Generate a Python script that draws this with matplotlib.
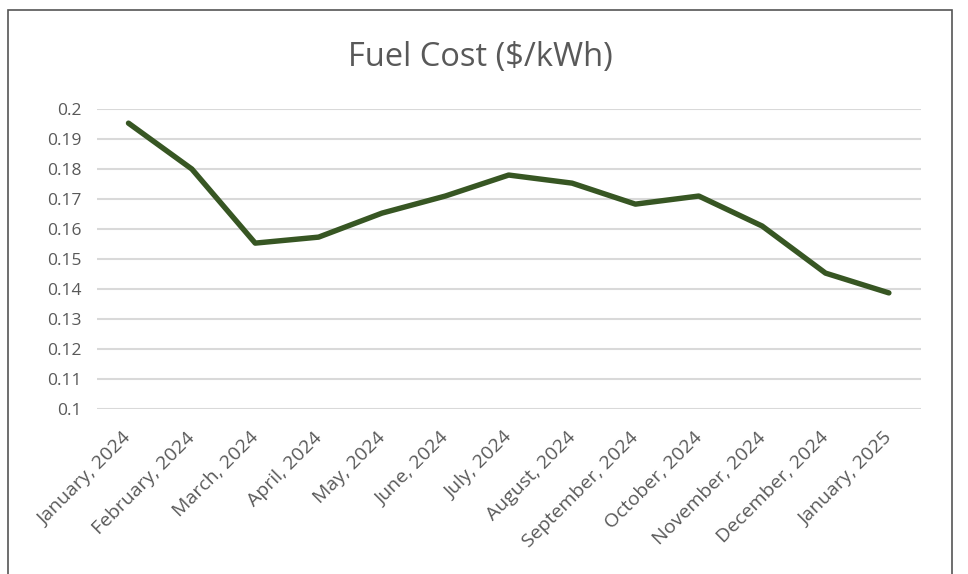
import matplotlib.pyplot as plt
import matplotlib.transforms as mtransforms
from matplotlib.patches import Rectangle

# monthly fuel cost
months = ['January, 2024', 'February, 2024', 'March, 2024', 'April, 2024', 'May, 2024',
          'June, 2024', 'July, 2024', 'August, 2024', 'September, 2024', 'October, 2024',
          'November, 2024', 'December, 2024', 'January, 2025']
cost = [0.1953, 0.1800, 0.1553, 0.1573, 0.1653, 0.1710, 0.1780, 0.1753, 0.1683, 0.1710,
        0.1610, 0.1453, 0.1387]
yticks = [0.1, 0.11, 0.12, 0.13, 0.14, 0.15, 0.16, 0.17, 0.18, 0.19, 0.2]
ylabels = ['0.1', '0.11', '0.12', '0.13', '0.14', '0.15', '0.16', '0.17', '0.18', '0.19', '0.2']

plt.rcParams['font.family'] = ['Open Sans', 'DejaVu Sans']
grey = '#595959'

fig = plt.figure(figsize=(9.68, 5.74), dpi=100)
ax = fig.add_axes([0.100, 0.2875, 0.851, 0.5225])

x = list(range(len(months)))
ax.plot(x, cost, color='#375623', linewidth=3.9, solid_capstyle='round', zorder=3)

ax.set_xlim(-0.5, len(months) - 0.5)
ax.set_ylim(0.1, 0.2)
ax.set_yticks(yticks)
ax.set_yticklabels(ylabels, color=grey, fontsize=12.5)
ax.set_xticks(x)
ax.set_xticklabels(months, rotation=45, ha='right', rotation_mode='anchor',
                   color=grey, fontsize=14)
ax.tick_params(length=0)
ax.tick_params(axis='y', pad=11)
ax.tick_params(axis='x', pad=14)
ax.grid(axis='y', color='#d9d9d9', linewidth=1.5)
ax.set_axisbelow(True)
for s in ax.spines.values():
    s.set_visible(False)

# nudge the rotated labels a little to the left
shift = mtransforms.ScaledTranslation(-6 / 100, 0, fig.dpi_scale_trans)
for lbl in ax.get_xticklabels():
    lbl.set_transform(lbl.get_transform() + shift)

fig.text(0.496, 0.899, 'Fuel Cost ($/kWh)', ha='center', va='center', fontsize=23.5, color=grey)

# chart border
fig.patches.append(Rectangle((0.008, -0.1), 0.975, 1.082, transform=fig.transFigure,
                             fill=False, edgecolor='#555555', linewidth=1.2))

fig.savefig('out.png', dpi=100)
